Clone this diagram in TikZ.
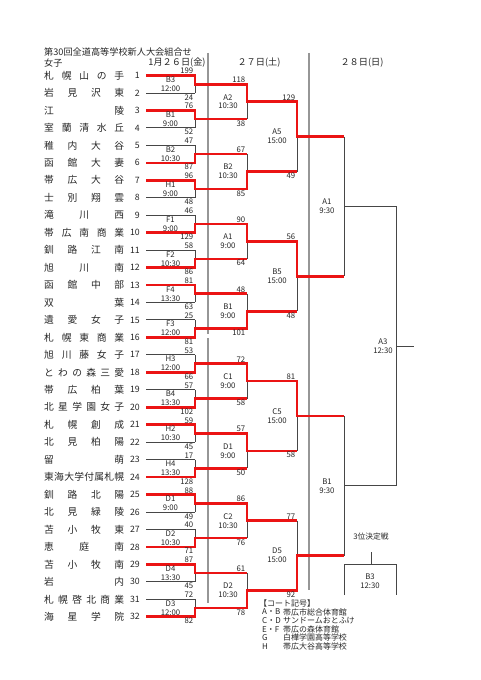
\documentclass[tikz,border=0pt]{standalone}
\usepackage{fontspec}
\setmainfont{Noto Sans CJK JP}
\definecolor{winred}{RGB}{235,20,20}
\definecolor{bracketgrey}{RGB}{70,70,70}
\definecolor{sepgrey}{RGB}{150,150,150}
\newcommand{\spread}[1]{\makebox[80bp][s]{\spaceskip=0pt plus 1fil\relax#1}}

\begin{document}
\begin{tikzpicture}[
    x=1bp, y=-1bp,
    every node/.append style={text=black!85},
    team/.style={anchor=west, inner sep=0pt, font=\fontsize{9.8}{10}\selectfont},
    num/.style={anchor=east, inner xsep=6bp, inner ysep=0pt, font=\fontsize{8.8}{9}\selectfont},
    score/.style={inner xsep=1.5bp, inner ysep=1.2bp, font=\fontsize{7.8}{9}\selectfont},
    match/.style={align=center, inner sep=0pt, font=\fontsize{7.8}{9}\selectfont},
    head/.style={inner sep=0pt, font=\fontsize{9.2}{10}\selectfont},
    note/.style={anchor=west, inner sep=0pt, font=\fontsize{8}{9}\selectfont},
    bracket/.style={draw=bracketgrey, line width=0.9bp},
    win/.style={draw=winred, line width=2.6bp},
    sep/.style={draw=sepgrey, line width=1.2bp}
  ]
  \useasboundingbox (0,0) rectangle (481,680);

  \node[head, anchor=west] (title) at (44,52) {第30回全道高等学校新人大会組合せ};
  \node[head, anchor=west] (girls) at (44,63) {女子};
  \node[head] (day1) at (177,63) {1月２６日(金)};
  \node[head] (day2) at (259,63) {２７日(土)};
  \node[head] (day3) at (362,63) {２８日(日)};

  \coordinate (sep1a) at (208,53);
  \coordinate (sep1b) at (208,334);
  \coordinate (sep1c) at (208,338);
  \coordinate (sep1d) at (208,603);
  \coordinate (sep2a) at (309,53);
  \coordinate (sep2b) at (309,590);
  \draw[sep] (sep1a) -- (sep1b) (sep1c) -- (sep1d) (sep2a) -- (sep2b);

  \foreach \name [count=\k] in {札 幌 山 の 手, 岩 見 沢 東, 江 陵, 室 蘭 清 水 丘,
      稚 内 大 谷, 函 館 大 妻, 帯 広 大 谷, 士 別 翔 雲, 滝 川 西, 帯 広 南 商 業,
      釧 路 江 南, 旭 川 南, 函 館 中 部, 双 葉, 遺 愛 女 子, 札 幌 東 商 業,
      旭 川 藤 女 子, と わ の 森 三 愛, 帯 広 柏 葉, 北 星 学 園 女 子, 札 幌 創 成,
      北 見 柏 陽, 留 萌, 東 海 大 学 付 属 札 幌, 釧 路 北 陽, 北 見 緑 陵,
      苫 小 牧 東, 恵 庭 南, 苫 小 牧 南, 岩 内, 札 幌 啓 北 商 業, 海 星 学 院}{
    \node[team] (team\k) at (44,{75.5+17.46*(\k-1)}) {\spread{\name}};
    \node[num] (n\k) at (146,{75.5+17.46*(\k-1)}) {\k};
    \coordinate (x1-\k) at (195,{75.5+17.46*(\k-1)});
  }
  \foreach \i in {1,...,16}{
    \coordinate (m1-\i) at (195,{49.31+34.92*\i});
    \coordinate (x2-\i) at (247,{49.31+34.92*\i});
  }
  \foreach \i in {1,...,8}{
    \coordinate (m2-\i) at (247,{31.85+69.84*\i});
    \coordinate (x3-\i) at (297,{31.85+69.84*\i});
  }
  \foreach \i in {1,...,4}{
    \coordinate (m3-\i) at (297,{-3.07+139.68*\i});
    \coordinate (x4-\i) at (344,{-3.07+139.68*\i});
  }
  \foreach \i in {1,2}{
    \coordinate (m4-\i) at (344,{-72.91+279.36*\i});
    \coordinate (x5-\i) at (396,{-72.91+279.36*\i});
  }
  \coordinate (m5) at (396,346.13);
  \coordinate (champ) at (414,346.13);

  \foreach \k in {1,...,32}
    \draw[bracket] (n\k.east) -- (x1-\k);
  \foreach \i in {1,...,16}{
    \pgfmathtruncatemacro{\a}{2*\i-1}
    \pgfmathtruncatemacro{\b}{2*\i}
    \draw[bracket] (x1-\a) -- (x1-\b) (m1-\i) -- (x2-\i);
  }
  \foreach \i in {1,...,8}{
    \pgfmathtruncatemacro{\a}{2*\i-1}
    \pgfmathtruncatemacro{\b}{2*\i}
    \draw[bracket] (x2-\a) -- (x2-\b) (m2-\i) -- (x3-\i);
  }
  \foreach \i in {1,...,4}{
    \pgfmathtruncatemacro{\a}{2*\i-1}
    \pgfmathtruncatemacro{\b}{2*\i}
    \draw[bracket] (x3-\a) -- (x3-\b) (m3-\i) -- (x4-\i);
  }
  \foreach \i in {1,2}{
    \pgfmathtruncatemacro{\a}{2*\i-1}
    \pgfmathtruncatemacro{\b}{2*\i}
    \draw[bracket] (x4-\a) -- (x4-\b) (m4-\i) -- (x5-\i);
  }
  \draw[bracket] (x5-1) -- (x5-2) (m5) -- (champ);

  \draw[win] (n1.east) -- (x1-1) -- (m1-1) -- (x2-1) -- (m2-1) -- (x3-1) -- (m3-1) -- (x4-1);
  \draw[win] (n3.east) -- (x1-3) -- (m1-2) -- (x2-2);
  \draw[win] (n6.east) -- (x1-6) -- (m1-3) -- (x2-3);
  \draw[win] (n7.east) -- (x1-7) -- (m1-4) -- (x2-4) -- (m2-2) -- (x3-2);
  \draw[win] (n10.east) -- (x1-10) -- (m1-5) -- (x2-5) -- (m2-3) -- (x3-3) -- (m3-2) -- (x4-2);
  \draw[win] (n12.east) -- (x1-12) -- (m1-6) -- (x2-6);
  \draw[win] (n13.east) -- (x1-13) -- (m1-7) -- (x2-7);
  \draw[win] (n16.east) -- (x1-16) -- (m1-8) -- (x2-8) -- (m2-4) -- (x3-4);
  \draw[win] (n18.east) -- (x1-18) -- (m1-9) -- (x2-9) -- (m2-5) -- (x3-5) -- (m3-3) -- (x4-3);
  \draw[win] (n20.east) -- (x1-20) -- (m1-10) -- (x2-10);
  \draw[win] (n21.east) -- (x1-21) -- (m1-11) -- (x2-11) -- (m2-6) -- (x3-6);
  \draw[win] (n24.east) -- (x1-24) -- (m1-12) -- (x2-12);
  \draw[win] (n25.east) -- (x1-25) -- (m1-13) -- (x2-13) -- (m2-7) -- (x3-7);
  \draw[win] (n28.east) -- (x1-28) -- (m1-14) -- (x2-14);
  \draw[win] (n29.east) -- (x1-29) -- (m1-15) -- (x2-15);
  \draw[win] (n32.east) -- (x1-32) -- (m1-16) -- (x2-16) -- (m2-8) -- (x3-8) -- (m3-4) -- (x4-4);

  \foreach \up/\dn [count=\i] in {199/24, 76/52, 47/87, 96/48, 46/129, 58/86, 81/63, 25/81,
      53/66, 57/102, 59/45, 17/128, 88/49, 40/71, 87/45, 72/82}{
    \pgfmathtruncatemacro{\a}{2*\i-1}
    \pgfmathtruncatemacro{\b}{2*\i}
    \node[score, anchor=south east] (r1s\a) at (x1-\a) {\up};
    \node[score, anchor=north east] (r1s\b) at (x1-\b) {\dn};
  }
  \foreach \up/\dn [count=\i] in {118/38, 67/85, 90/64, 48/101, 72/58, 57/50, 86/76, 61/78}{
    \pgfmathtruncatemacro{\a}{2*\i-1}
    \pgfmathtruncatemacro{\b}{2*\i}
    \node[score, anchor=south east] (r2s\a) at (x2-\a) {\up};
    \node[score, anchor=north east] (r2s\b) at (x2-\b) {\dn};
  }
  \foreach \up/\dn [count=\i] in {129/49, 56/48, 81/58, 77/92}{
    \pgfmathtruncatemacro{\a}{2*\i-1}
    \pgfmathtruncatemacro{\b}{2*\i}
    \node[score, anchor=south east] (r3s\a) at (x3-\a) {\up};
    \node[score, anchor=north east] (r3s\b) at (x3-\b) {\dn};
  }

  \foreach \lab/\tm [count=\i] in {B3/12:00, B1/9:00, B2/10:30, H1/9:00, F1/9:00, F2/10:30,
      F4/13:30, F3/12:00, H3/12:00, B4/13:30, H2/10:30, H4/13:30, D1/9:00, D2/10:30,
      D4/13:30, D3/12:00}
    \node[match] (r1g\i) at (170.5,{49.31+34.92*\i}) {\lab\\\tm};
  \foreach \lab/\tm [count=\i] in {A2/10:30, B2/10:30, A1/9:00, B1/9:00, C1/9:00, D1/9:00,
      C2/10:30, D2/10:30}
    \node[match] (r2g\i) at (228,{31.85+69.84*\i}) {\lab\\\tm};
  \foreach \lab [count=\i] in {A5, B5, C5, D5}
    \node[match] (r3g\i) at (277,{-3.07+139.68*\i}) {\lab\\15:00};
  \node[match] (semi1) at (327,206.45) {A1\\9:30};
  \node[match] (semi2) at (327,485.81) {B1\\9:30};
  \node[match] (final) at (383,346.13) {A3\\12:30};

  \node[match] (third) at (371,537) {3位決定戦};
  \coordinate (tp-top) at (371,552);
  \coordinate (tp-mid) at (371,564);
  \coordinate (tp-l) at (344,564);
  \coordinate (tp-r) at (396,564);
  \coordinate (tp-lb) at (344,595);
  \coordinate (tp-rb) at (396,595);
  \draw[bracket] (tp-top) -- (tp-mid) (tp-lb) -- (tp-l) -- (tp-r) -- (tp-rb);
  \node[match] (thirdgame) at (370,581) {B3\\12:30};

  \node[note] (court) at (259,603) {【コート記号】};
  \foreach \code/\hall [count=\i] in {A・B/帯広市総合体育館, C・D/サンドームおとふけ,
      E・F/帯広の森体育館, G/白樺学園高等学校, H/帯広大谷高等学校}{
    \node[note] (code\i) at (262,{612+8.6*(\i-1)}) {\code};
    \node[note] (hall\i) at (283,{612+8.6*(\i-1)}) {\hall};
  }
\end{tikzpicture}
\end{document}
